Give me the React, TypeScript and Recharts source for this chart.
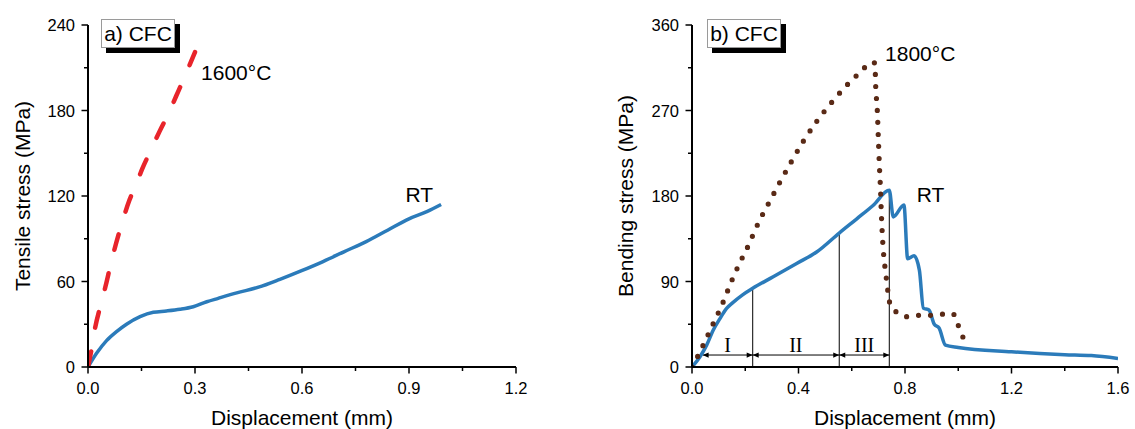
import React from 'react';
import { LineChart, Line, XAxis, YAxis, ReferenceLine, ReferenceDot, Label } from 'recharts';

// ---------- data ----------
const tensileRtDisp = [0, 0.024, 0.052, 0.08, 0.108, 0.146, 0.183, 0.22, 0.258, 0.295, 0.333, 0.365, 0.417, 0.478, 0.538, 0.599, 0.659, 0.719, 0.78, 0.84, 0.9, 0.95, 0.99];
const tensileRtStress = [0, 9.6, 18.5, 24.8, 30, 35.3, 38.4, 39.3, 40.5, 42.3, 45.8, 48.2, 52, 56, 61.5, 67.6, 74, 81, 88, 96, 104, 109, 114];

const tensile1600Disp = [0, 0.01, 0.02, 0.035, 0.05, 0.064, 0.079, 0.094, 0.116, 0.135, 0.152, 0.176, 0.2, 0.225, 0.247, 0.269, 0.3];
const tensile1600Stress = [0, 12.5, 27.5, 43, 57.5, 72.5, 87, 100, 117, 128, 139, 152, 165, 177.5, 190, 202.5, 221];

const bendRtDisp = [0, 0.03, 0.055, 0.08, 0.105, 0.13, 0.15, 0.19, 0.228, 0.305, 0.393, 0.468, 0.553, 0.619, 0.68, 0.741, 0.756, 0.796, 0.81, 0.834, 0.854, 0.869, 0.89, 0.91, 0.928, 0.952, 1.0, 1.2, 1.4, 1.5, 1.6];
const bendRtStress = [0, 10.8, 23, 39, 51, 61.8, 67, 76, 82.8, 95, 109, 121, 141, 156, 170, 186, 158, 170.5, 114, 117, 102, 62, 60, 45, 41, 23, 20.5, 16, 13, 12, 9];

const bend1800Disp = [0, 0.02, 0.0385, 0.057, 0.076, 0.094, 0.112, 0.128, 0.145, 0.162, 0.179, 0.198, 0.217, 0.235, 0.255, 0.293, 0.333, 0.376, 0.419, 0.467, 0.52, 0.576, 0.64, 0.671, 0.687, 0.69, 0.696, 0.7, 0.704, 0.708, 0.711, 0.715, 0.721, 0.726, 0.731, 0.736, 0.744, 0.766, 0.806, 0.85, 0.891, 0.935, 0.979, 0.997, 1.011, 1.032];
const bend1800Stress = [0, 10.5, 21, 32, 43.5, 54, 65, 76, 88, 99, 109.5, 120, 131, 143, 155, 175, 196, 217.5, 238, 258, 277, 295, 312.6, 320.7, 320, 295, 270, 240, 211, 187, 163, 138.6, 114.4, 102.4, 90.8, 79, 66.3, 58.2, 53, 54.4, 54.4, 55.5, 56.5, 46, 35.4, 24.6];

const tensileXTicks = [0, 0.15, 0.3, 0.45, 0.6, 0.75, 0.9, 1.05, 1.2];
const tensileYTicks = [0, 30, 60, 90, 120, 150, 180, 210, 240];
const bendXTicks = [0, 0.2, 0.4, 0.6, 0.8, 1.0, 1.2, 1.4, 1.6];
const bendYTicks = [0, 45, 90, 135, 180, 225, 270, 315, 360];

const stageBounds = [0.04, 0.228, 0.553, 0.741];
const stageLineTops = [82.8, 141, 184];
const stageNames = ['I', 'II', 'III'];
const stageNameX = [0.134, 0.39, 0.647];
const arrowLevel = 12.6;
const stageLabelLevel = 23;

const rows = (xs: number[], ys: number[]) => xs.map((x, i) => ({ x, y: ys[i] }));

// ---------- styling ----------
const FONT = '"Liberation Sans", Arial, sans-serif';
const SERIF = '"Liberation Serif", "Times New Roman", serif';
const BLUE = '#2b7bba';
const RED = '#e8242b';
const BROWN = '#5a2a16';
const W = 560;
const H = 429;
const AXIS_Y = 367;
const TICK_FS = 16.5;
const TITLE_FS = 21;

const makeXTick = (axisY: number) => (props: any) => {
  const { x, index, payload } = props;
  const major = index % 2 === 0;
  return (
    <g>
      <line x1={x} x2={x} y1={axisY} y2={axisY + (major ? 6.5 : 4)} stroke="#000" strokeWidth={1.5} />
      {major && (
        <text x={x} y={axisY + 27} textAnchor="middle" fontSize={TICK_FS} fontFamily={FONT} fill="#000">
          {Number(payload.value).toFixed(1)}
        </text>
      )}
    </g>
  );
};

const makeYTick = (axisX: number) => (props: any) => {
  const { y, index, payload } = props;
  const major = index % 2 === 0;
  return (
    <g>
      <line x1={axisX - (major ? 6.5 : 4)} x2={axisX} y1={y} y2={y} stroke="#000" strokeWidth={1.5} />
      {major && (
        <text x={axisX - 13} y={y} textAnchor="end" dominantBaseline="central" fontSize={TICK_FS} fontFamily={FONT} fill="#000">
          {String(payload.value)}
        </text>
      )}
    </g>
  );
};

const xTitle = (cx: number, text: string) => () => (
  <text x={cx} y={AXIS_Y + 58} textAnchor="middle" fontSize={TITLE_FS} fontFamily={FONT} fill="#000">{text}</text>
);
const yTitle = (x: number, text: string) => () => (
  <text x={x} y={196} transform={`rotate(-90, ${x}, 196)`} textAnchor="middle" dominantBaseline="central" fontSize={TITLE_FS} fontFamily={FONT} fill="#000">{text}</text>
);

const textShape = (text: string, size = 21, family = FONT, anchor: 'start' | 'middle' = 'start') => (p: any) => (
  <text x={p.cx} y={p.cy} textAnchor={anchor} dominantBaseline="central" fontSize={size} fontFamily={family} fill="#000">{text}</text>
);

const arrowShape = (p: any) => {
  const { x1, y1, x2, y2 } = p;
  const a = 6;
  const h = 2.6;
  return (
    <g>
      <line x1={x1} y1={y1} x2={x2} y2={y2} stroke="#000" strokeWidth={1} />
      <path d={`M${x1},${y1} L${x1 + a},${y1 - h} L${x1 + a},${y1 + h} Z`} fill="#000" />
      <path d={`M${x2},${y2} L${x2 - a},${y2 - h} L${x2 - a},${y2 + h} Z`} fill="#000" />
    </g>
  );
};

const Badge = ({ left, text }: { left: number; text: string }) => (
  <>
    <div style={{ position: 'absolute', left: left + 5, top: 24, width: 74, height: 29, background: '#000' }} />
    <div
      style={{
        position: 'absolute', left, top: 19, width: 72, height: 27, background: '#fff', border: '1px solid #9a9a9a',
        fontFamily: FONT, fontSize: 21, lineHeight: '27px', textAlign: 'center', color: '#000', whiteSpace: 'nowrap',
      }}
    >
      {text}
    </div>
  </>
);

export default function App() {
  const tensileRt = rows(tensileRtDisp, tensileRtStress);
  const tensile1600 = rows(tensile1600Disp, tensile1600Stress);
  const bendRt = rows(bendRtDisp, bendRtStress);
  const bend1800 = rows(bend1800Disp, bend1800Stress);

  const leftMargin = { top: 25, right: 44, bottom: 12, left: 28 };
  const rightMargin = { top: 25, right: 17, bottom: 12, left: 57 };
  const axisLine = { stroke: '#000', strokeWidth: 2 };

  return (
    <div style={{ position: 'absolute', left: 0, top: 0, width: 1135, height: 429, background: '#fff', overflow: 'hidden' }}>
      <div style={{ position: 'absolute', left: 0, top: 0 }}>
        <LineChart width={W} height={H} margin={leftMargin}>
          <XAxis
            type="number" dataKey="x" domain={[0, 1.2]} ticks={tensileXTicks} interval={0} height={50}
            axisLine={axisLine} tickLine={false} tick={makeXTick(AXIS_Y)} allowDataOverflow
          >
            <Label content={xTitle(302, 'Displacement (mm)')} />
          </XAxis>
          <YAxis
            type="number" dataKey="y" domain={[0, 240]} ticks={tensileYTicks} interval={0} width={60}
            axisLine={axisLine} tickLine={false} tick={makeYTick(88)} allowDataOverflow
          >
            <Label content={yTitle(22, 'Tensile stress (MPa)')} />
          </YAxis>
          <Line data={tensileRt} dataKey="y" type="monotone" stroke={BLUE} strokeWidth={3.5} dot={false} isAnimationActive={false} />
          <Line data={tensile1600} dataKey="y" type="monotone" stroke={RED} strokeWidth={4.5} strokeDasharray="16 24" strokeLinecap="round" dot={false} isAnimationActive={false} />
          <ReferenceDot x={0.317} y={207} r={0} shape={textShape('1600°C')} />
          <ReferenceDot x={0.89} y={121.4} r={0} shape={textShape('RT')} />
        </LineChart>
      </div>
      <div style={{ position: 'absolute', left: 575, top: 0 }}>
        <LineChart width={W} height={H} margin={rightMargin}>
          <XAxis
            type="number" dataKey="x" domain={[0, 1.6]} ticks={bendXTicks} interval={0} height={50}
            axisLine={axisLine} tickLine={false} tick={makeXTick(AXIS_Y)} allowDataOverflow
          >
            <Label content={xTitle(330, 'Displacement (mm)')} />
          </XAxis>
          <YAxis
            type="number" dataKey="y" domain={[0, 360]} ticks={bendYTicks} interval={0} width={60}
            axisLine={axisLine} tickLine={false} tick={makeYTick(117)} allowDataOverflow
          >
            <Label content={yTitle(50, 'Bending stress (MPa)')} />
          </YAxis>
          {stageLineTops.map((top, i) => (
            <ReferenceLine key={`v${i}`} segment={[{ x: stageBounds[i + 1], y: 0 }, { x: stageBounds[i + 1], y: top }]} stroke="#000" strokeWidth={1} />
          ))}
          {stageNames.map((n, i) => (
            <ReferenceLine key={`a${i}`} segment={[{ x: stageBounds[i], y: arrowLevel }, { x: stageBounds[i + 1], y: arrowLevel }]} shape={arrowShape} />
          ))}
          {stageNames.map((n, i) => (
            <ReferenceDot key={`t${i}`} x={stageNameX[i]} y={stageLabelLevel} r={0} shape={textShape(n, 20, SERIF, 'middle')} />
          ))}
          <Line data={bendRt} dataKey="y" type="monotone" stroke={BLUE} strokeWidth={3.5} dot={false} isAnimationActive={false} />
          <Line data={bend1800} dataKey="y" type="monotone" stroke={BROWN} strokeWidth={5.2} strokeDasharray="0 12" strokeLinecap="round" dot={false} isAnimationActive={false} />
          <ReferenceDot x={0.725} y={330.5} r={0} shape={textShape('1800°C')} />
          <ReferenceDot x={0.844} y={182} r={0} shape={textShape('RT')} />
        </LineChart>
      </div>
      <Badge left={101} text="a) CFC" />
      <Badge left={707} text="b) CFC" />
    </div>
  );
}
